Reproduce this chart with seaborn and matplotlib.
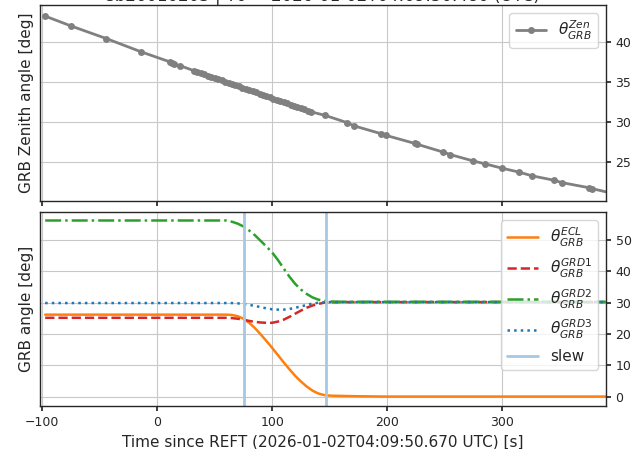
import matplotlib
matplotlib.use("Agg")
import matplotlib.pyplot as plt
import seaborn as sns
import pandas as pd

# ---- zenith angle samples (s since REFT, deg) ----
zen_time = [-97.4, -74.8, -44.3, -14.2, 10.7, 12.5, 14.8, 20.0,
            32, 35, 38, 41, 44, 47, 50, 53, 56, 59, 62, 65, 68, 71, 74, 77,
            80, 83, 86, 89, 92, 95, 98, 101, 104, 107, 110, 113, 116, 119,
            122, 125, 128, 131, 134,
            146, 165, 171, 195, 199, 224, 226, 249, 255, 275, 285, 300, 315,
            326, 345, 352, 376, 378, 395]
zen_angle = [43.2, 41.96, 40.4, 38.75, 37.5, 37.35, 37.2, 37.0,
             36.38, 36.23, 36.08, 35.93, 35.77, 35.62, 35.47, 35.32, 35.17,
             35.02, 34.87, 34.72, 34.56, 34.41, 34.26, 34.11, 33.96, 33.81,
             33.66, 33.51, 33.36, 33.20, 33.05, 32.90, 32.75, 32.60, 32.45,
             32.30, 32.15, 31.99, 31.84, 31.69, 31.54, 31.39, 31.24,
             30.8, 29.9, 29.5, 28.5, 28.3, 27.3, 27.2, 26.2, 25.9, 25.1,
             24.75, 24.2, 23.7, 23.25, 22.7, 22.4, 21.75, 21.65, 21.1]

# ---- detector angles to the GRB (s since REFT, deg) ----
det_time = [-97.5, -50, 0, 50, 60, 65, 70, 75, 80, 85, 90, 95, 100, 105,
            110, 115, 120, 125, 130, 135, 140, 145, 150, 160, 175, 200,
            300, 390]
ecl = [26.2, 26.2, 26.2, 26.2, 26.2, 26.1, 25.7, 24.9, 23.6, 21.9, 19.9,
       17.8, 15.6, 13.3, 11.0, 8.8, 6.7, 4.9, 3.3, 2.0, 1.1, 0.6, 0.4, 0.3,
       0.2, 0.1, 0.1, 0.1]
grd1 = [25.2, 25.2, 25.2, 25.2, 25.2, 25.1, 24.9, 24.6, 24.2, 23.9, 23.7,
        23.6, 23.6, 24.0, 24.6, 25.5, 26.5, 27.5, 28.4, 29.1, 29.6, 30.0,
        30.1, 30.2, 30.2, 30.2, 30.2, 30.2]
grd2 = [56.2, 56.2, 56.2, 56.2, 56.2, 55.8, 55.2, 54.3, 53.0, 51.5, 49.7,
        47.9, 46.0, 43.6, 40.9, 38.3, 36.0, 34.2, 32.8, 31.7, 31.0, 30.6,
        30.4, 30.3, 30.3, 30.3, 30.3, 30.3]
grd3 = [29.9, 29.9, 29.9, 29.9, 29.9, 29.9, 29.8, 29.6, 29.3, 29.0, 28.6,
        28.2, 27.9, 27.8, 27.8, 28.0, 28.4, 28.8, 29.3, 29.7, 30.0, 30.1,
        30.2, 30.2, 30.2, 30.2, 30.2, 30.2]

slew_times = [75.7, 146.5]

title = "sb26010203 | T0 = 2026-01-02T04:09:50.480 (UTC)"
xlabel = "Time since REFT (2026-01-02T04:09:50.670 UTC) [s]"

sns.set_theme(style="ticks", rc={
    "axes.grid": True,
    "grid.color": "#c8c8c8",
    "grid.linewidth": 0.8,
    "axes.edgecolor": "0.15",
    "axes.linewidth": 1.0,
    "xtick.major.size": 3.5,
    "ytick.major.size": 3.5,
    "xtick.major.pad": 3.5,
    "ytick.major.pad": 3.5,
    "xtick.labelsize": 9,
    "ytick.labelsize": 9,
    "axes.labelsize": 11,
    "legend.fontsize": 11,
})
plt.rcParams["font.family"] = ["DejaVu Sans"]

fig = plt.figure(figsize=(6.33, 4.49), dpi=100)
ax1 = fig.add_axes([0.0632, 0.5523, 0.8938, 0.4367])
ax2 = fig.add_axes([0.0632, 0.0958, 0.8938, 0.4320], sharex=ax1)

zen = pd.DataFrame({"t": zen_time, "zen": zen_angle})
sns.lineplot(data=zen, x="t", y="zen", ax=ax1, color="gray", marker="o",
             markersize=5, markeredgewidth=0, linewidth=2,
             label=r"$\theta_{GRB}^{Zen}$", sort=False)
ax1.set_ylim(20.1, 44.6)
ax1.set_ylabel("GRB Zenith angle [deg]")
ax1.set_xlabel("")
ax1.yaxis.tick_right()
ax1.yaxis.set_label_position("left")
ax1.tick_params(axis="x", labelbottom=False)
ax1.legend(loc="upper right")
ax1.set_title(title, fontsize=12, pad=1.5)

det = pd.DataFrame({"t": det_time, "ecl": ecl, "grd1": grd1,
                    "grd2": grd2, "grd3": grd3})
sns.lineplot(data=det, x="t", y="ecl", ax=ax2, color="#ff7f0e",
             linewidth=1.8, label=r"$\theta_{GRB}^{ECL}$")
sns.lineplot(data=det, x="t", y="grd1", ax=ax2, color="#d62728",
             linewidth=1.8, linestyle="--", label=r"$\theta_{GRB}^{GRD1}$")
sns.lineplot(data=det, x="t", y="grd2", ax=ax2, color="#2ca02c",
             linewidth=1.8, linestyle="-.", label=r"$\theta_{GRB}^{GRD2}$")
sns.lineplot(data=det, x="t", y="grd3", ax=ax2, color="#1f77b4",
             linewidth=1.8, linestyle=":", label=r"$\theta_{GRB}^{GRD3}$")
for i, ts in enumerate(slew_times):
    ax2.axvline(ts, color="#a6c8e4", linewidth=2,
                label="slew" if i == 0 else None)
ax2.set_ylim(-2.9, 58.9)
ax2.set_xlim(-102, 390.2)
ax2.set_ylabel("GRB angle [deg]")
ax2.set_xlabel(xlabel)
ax2.yaxis.tick_right()
ax2.yaxis.set_label_position("left")
ax2.set_xticks([-100, 0, 100, 200, 300])
ax2.set_yticks([0, 10, 20, 30, 40, 50])
ax2.legend(loc="upper right")

fig.savefig("out.png", dpi=100)
